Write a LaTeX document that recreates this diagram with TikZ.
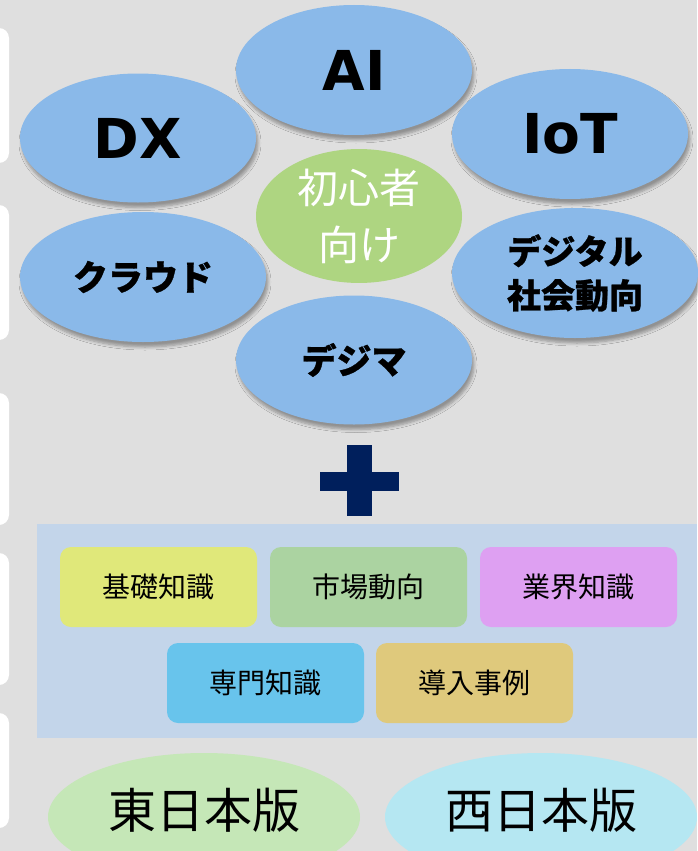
\documentclass[tikz,border=0pt]{standalone}
\usepackage{fontspec}
\usetikzlibrary{shapes.geometric,shadows.blur}
\newfontfamily\jp{Noto Sans CJK JP}
\newfontfamily\jpb{Noto Sans CJK JP}[BoldFeatures={FakeBold=0.8}]
\newfontfamily\lat{DejaVu Sans}
\definecolor{bg}{HTML}{DFDFDF}
\definecolor{ellblue}{HTML}{8AB9E9}
\definecolor{ellgreen}{HTML}{AED581}
\definecolor{plusnavy}{HTML}{001F5C}
\definecolor{panel}{HTML}{C3D5EA}
\definecolor{cyellow}{HTML}{E0E87A}
\definecolor{cgreen}{HTML}{ABD3A1}
\definecolor{cviolet}{HTML}{DEA0F2}
\definecolor{cblue}{HTML}{68C4EC}
\definecolor{ctan}{HTML}{DFC97C}
\definecolor{eastgreen}{HTML}{C5E7B7}
\definecolor{westcyan}{HTML}{B5E7F2}
\tikzset{
  sidebox/.style={fill=white, rounded corners=10pt},
  topic/.style={ellipse, fill=ellblue, inner sep=0pt,
    blur shadow={shadow xshift=2pt, shadow yshift=-5pt, shadow blur steps=6, shadow blur radius=3pt, shadow opacity=35},
    align=center},
  tag/.style={rounded corners=11pt, inner sep=0pt, minimum width=197pt, minimum height=80pt,
    font=\jp\fontsize{28}{32}\selectfont, text=black},
  region/.style={ellipse, inner sep=0pt, minimum width=312pt, minimum height=128pt,
    font=\jp\fontsize{48}{52}\selectfont, text=black},
}
\begin{document}
\begin{tikzpicture}[x=1pt, y=-1pt]
\fill[bg] (0,0) rectangle (697,851);
\useasboundingbox (0,0) rectangle (697,851);
% left white boxes
\fill[sidebox] (-20,28) rectangle (9,163);
\fill[sidebox] (-20,205) rectangle (9,340);
\fill[sidebox] (-20,393) rectangle (9,525);
\fill[sidebox] (-20,553) rectangle (9,685);
\fill[sidebox] (-20,713) rectangle (9,828);
% topic ellipses
\node[topic, minimum width=236pt, minimum height=130pt, font=\lat\bfseries\fontsize{55}{60}\selectfont] (ai) at (354,70) {AI};
\node[topic, minimum width=236pt, minimum height=129pt, font=\lat\bfseries\fontsize{55}{60}\selectfont] (dx) at (138,138) {DX};
\node[topic, minimum width=236pt, minimum height=130pt, font=\lat\bfseries\fontsize{55}{60}\selectfont] (iot) at (570,134) {IoT};
\node[topic, minimum width=246pt, minimum height=130pt, font=\jpb\bfseries\fontsize{35}{40}\selectfont] (cloud) at (143,277) {クラウド};
\node[topic, minimum width=246pt, minimum height=130pt, font=\jpb\bfseries\fontsize{34}{44}\selectfont] (digi) at (575,273) {デジタル\\社会動向};
\node[topic, minimum width=236pt, minimum height=129pt, font=\jpb\bfseries\fontsize{35}{40}\selectfont] (dm) at (354,360) {デジマ};
\node[ellipse, fill=ellgreen, inner sep=0pt, minimum width=206pt, minimum height=116pt, align=center,
  text=white, font=\jp\fontsize{41}{57}\selectfont] (beg) at (359,216) {初心者\\向け};
% plus sign
\fill[plusnavy] (347,445) rectangle (372,516);
\fill[plusnavy] (320,472) rectangle (399,491);
\coordinate (plus) at (360,480);
% panel
\fill[panel] (37,524) rectangle (697,738);
\node[tag, fill=cyellow] (kiso) at (158.5,587) {基礎知識};
\node[tag, fill=cgreen] (shijo) at (368.5,587) {市場動向};
\node[tag, fill=cviolet] (gyokai) at (578.5,587) {業界知識};
\node[tag, fill=cblue] (senmon) at (265.5,683) {専門知識};
\node[tag, fill=ctan] (donyu) at (474.5,683) {導入事例};
% region ellipses
\node[region, fill=eastgreen] (east) at (204,817) {};
\node[font=\jp\fontsize{48}{52}\selectfont] (eastt) at (204,810) {東日本版};
\node[region, fill=westcyan] (west) at (541,817) {};
\node[font=\jp\fontsize{48}{52}\selectfont] (westt) at (541,810) {西日本版};
\end{tikzpicture}
\end{document}
